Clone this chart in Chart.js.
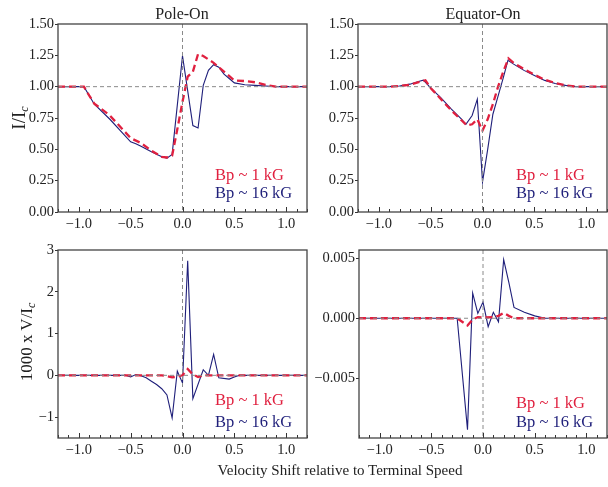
<!DOCTYPE html>
<html>
<head>
<meta charset="utf-8">
<script src="https://cdn.jsdelivr.net/npm/chart.js@4.4.1/dist/chart.umd.min.js"></script>
<style>
  body { margin: 0; background: #fff; }
  #wrap { position: relative; width: 608px; height: 487px; font-family: "Liberation Serif", "DejaVu Serif", serif; color: #222; }
  canvas { position: absolute; }
  .lbl { position: absolute; white-space: nowrap; line-height: 1; }
  .title { font-size: 16px; }
  .leg { font-size: 16.5px; }
  .red { color: #e0203f; }
  .blue { color: #1f1f7a; }
  .ylab { font-size: 17px; transform: translate(-50%, -50%) rotate(-90deg); }
  sub { font-size: 12px; vertical-align: -3px; }
</style>
</head>
<body>
<div id="wrap">
  <canvas id="poleI" width="310" height="240" style="left:0;top:0"></canvas>
  <canvas id="eqI" width="308" height="240" style="left:300px;top:0"></canvas>
  <canvas id="poleV" width="310" height="228" style="left:0;top:240px"></canvas>
  <canvas id="eqV" width="308" height="228" style="left:300px;top:240px"></canvas>

  <div class="lbl title" style="left:182px;top:6px;transform:translateX(-50%)">Pole-On</div>
  <div class="lbl title" style="left:483px;top:6px;transform:translateX(-50%)">Equator-On</div>

  <div class="lbl ylab" style="left:19px;top:118px;font-size:19px">I/I<sub><i>c</i></sub></div>
  <div class="lbl ylab" style="left:27px;top:342px">1000 x V/I<sub><i>c</i></sub></div>
  <div class="lbl" style="left:340px;top:463px;font-size:15px;transform:translateX(-50%)">Velocity Shift relative to Terminal Speed</div>

  <div class="lbl leg red"  style="left:215px;top:167px">Bp ~ 1 kG</div>
  <div class="lbl leg blue" style="left:215px;top:185px">Bp ~ 16 kG</div>
  <div class="lbl leg red"  style="left:516px;top:167px">Bp ~ 1 kG</div>
  <div class="lbl leg blue" style="left:516px;top:185px">Bp ~ 16 kG</div>
  <div class="lbl leg red"  style="left:215px;top:392px">Bp ~ 1 kG</div>
  <div class="lbl leg blue" style="left:215px;top:414px">Bp ~ 16 kG</div>
  <div class="lbl leg red"  style="left:516px;top:395px">Bp ~ 1 kG</div>
  <div class="lbl leg blue" style="left:516px;top:414px">Bp ~ 16 kG</div>
</div>

<script>
/* ==========================
   DATA
========================== */
const xTicks = [-1, -0.5, 0, 0.5, 1];
const intensityTicks = [0, 0.25, 0.5, 0.75, 1, 1.25, 1.5];
const poleVTicks = [-1, 0, 1, 2, 3];
const eqVTicks = [-0.005, 0, 0.005];

// Pole-On, Stokes I
const poleIx1 = [-1.2, -0.95, -0.9, -0.85, -0.7, -0.5, -0.4, -0.3, -0.2, -0.15, -0.1, -0.05, 0, 0.05, 0.1, 0.15, 0.2, 0.3, 0.4, 0.5, 0.6, 0.7, 0.8, 0.9, 1.2];
const poleIy1 = [1, 1, 0.93, 0.865, 0.77, 0.59, 0.55, 0.49, 0.44, 0.435, 0.45, 0.66, 0.88, 1.08, 1.12, 1.26, 1.245, 1.19, 1.12, 1.05, 1.045, 1.035, 1.015, 1.0, 1.0];
const poleIx16 = [-1.2, -0.95, -0.9, -0.85, -0.7, -0.5, -0.45, -0.4, -0.3, -0.2, -0.15, -0.1, 0, 0.1, 0.15, 0.2, 0.25, 0.3, 0.35, 0.4, 0.45, 0.5, 0.6, 0.7, 0.8, 0.9, 1.2];
const poleIy16 = [1, 1, 0.93, 0.86, 0.74, 0.56, 0.545, 0.525, 0.48, 0.44, 0.43, 0.46, 1.245, 0.69, 0.67, 1.01, 1.13, 1.175, 1.155, 1.1, 1.065, 1.03, 1.015, 1.01, 1.005, 1.0, 1.0];

// Equator-On, Stokes I
const eqIx1 = [-1.2, -0.9, -0.8, -0.7, -0.6, -0.55, -0.5, -0.4, -0.3, -0.2, -0.15, -0.1, -0.05, 0, 0.05, 0.1, 0.15, 0.2, 0.25, 0.3, 0.4, 0.5, 0.6, 0.7, 0.8, 0.9, 1.2];
const eqIy1 = [1, 1.0, 1.005, 1.015, 1.04, 1.05, 0.99, 0.9, 0.81, 0.73, 0.69, 0.7, 0.74, 0.65, 0.74, 0.86, 1.0, 1.12, 1.225, 1.19, 1.14, 1.095, 1.055, 1.03, 1.01, 1.0, 1.0];
const eqIx16 = [-1.2, -0.9, -0.8, -0.7, -0.6, -0.57, -0.5, -0.4, -0.3, -0.2, -0.16, -0.1, -0.05, 0, 0.05, 0.1, 0.15, 0.2, 0.245, 0.3, 0.4, 0.5, 0.6, 0.7, 0.8, 0.9, 1.2];
const eqIy16 = [1, 1.0, 1.005, 1.02, 1.045, 1.052, 0.99, 0.91, 0.82, 0.74, 0.7, 0.77, 0.9, 0.24, 0.5, 0.78, 0.925, 1.07, 1.21, 1.18, 1.13, 1.09, 1.05, 1.025, 1.01, 1.0, 1.0];

// Pole-On, 1000 x Stokes V
const poleVx1 = [-1.2, -0.2, -0.15, -0.1, -0.05, 0, 0.05, 0.1, 0.15, 0.2, 1.2];
const poleVy1 = [0, 0, -0.02, -0.05, -0.03, 0, 0.15, 0.02, -0.04, 0, 0];
const poleVx16 = [-1.2, -0.55, -0.5, -0.45, -0.4, -0.35, -0.3, -0.25, -0.2, -0.15, -0.1, -0.05, 0, 0.05, 0.1, 0.2, 0.25, 0.3, 0.35, 0.45, 0.5, 0.55, 1.2];
const poleVy16 = [0, 0, -0.04, 0.02, -0.01, -0.06, -0.14, -0.22, -0.32, -0.47, -1.02, 0.1, -0.18, 2.74, -0.56, 0.135, 0, 0.5, -0.06, -0.09, -0.04, 0, 0];

// Equator-On, Stokes V
const eqVx1 = [-1.2, -0.25, -0.15, -0.1, -0.05, 0, 0.1, 0.15, 0.2, 0.25, 0.3, 1.2];
const eqVy1 = [0, 0, -0.0006, -0.0001, 0.0001, 0.00005, 0.0001, 0.0002, 0.00045, 0.0002, 0, 0];
const eqVx16 = [-1.2, -0.25, -0.15, -0.1, -0.05, 0, 0.05, 0.1, 0.15, 0.2, 0.25, 0.3, 0.4, 0.5, 0.6, 1.2];
const eqVy16 = [0, 0, -0.0093, 0.0021, 0.0004, 0.00135, -0.0007, 0.0005, -0.0003, 0.0049, 0.003, 0.0009, 0.0005, 0.0002, 0, 0];

const RED = "#e0203f";
const BLUE = "#1f1f7a";
const FONT = "'Liberation Serif', 'DejaVu Serif', serif";

function pts(xs, ys) {
  return xs.map((x, i) => ({ x: x, y: ys[i] }));
}

function fmt(v, dec) {
  return v.toFixed(dec).replace("-", "\u2212");
}

/* ===== reference lines, frame and inward x ticks ===== */
const framePlugin = {
  id: "frame",
  afterDatasetsDraw(chart, args, opts) {
    const ctx = chart.ctx;
    const a = chart.chartArea;
    const xs = chart.scales.x;
    const ys = chart.scales.y;
    ctx.save();
    ctx.strokeStyle = "#8a8a8a";
    ctx.lineWidth = 1;
    ctx.setLineDash([4, 3]);
    const yp = ys.getPixelForValue(opts.refY);
    ctx.beginPath();
    ctx.moveTo(a.left, yp);
    ctx.lineTo(a.right, yp);
    const xp = xs.getPixelForValue(0);
    ctx.moveTo(xp, a.top);
    ctx.lineTo(xp, a.bottom);
    ctx.stroke();
    ctx.restore();
  },
  afterDraw(chart) {
    const ctx = chart.ctx;
    const a = chart.chartArea;
    const xs = chart.scales.x;
    ctx.save();
    ctx.strokeStyle = "#333";
    ctx.lineWidth = 1;
    ctx.beginPath();
    for (let k = -12; k <= 12; k++) {
      const px = Math.round(xs.getPixelForValue(k / 10)) + 0.5;
      const len = (k % 5 === 0) ? 5 : 3;
      ctx.moveTo(px, a.bottom);
      ctx.lineTo(px, a.bottom - len);
    }
    ctx.stroke();
    ctx.strokeStyle = "#444";
    ctx.lineWidth = 1.3;
    ctx.strokeRect(a.left, a.top, a.right - a.left, a.bottom - a.top);
    ctx.restore();
  }
};

function makePanel(id, data1, data16, yMin, yMax, yTicks, yDec, refY, pad, yWidth, xHeight) {
  return new Chart(document.getElementById(id), {
    type: "line",
    data: {
      datasets: [{
        label: "Bp ~ 1 kG",
        data: data1,
        borderColor: RED,
        borderWidth: 2.3,
        borderDash: [7, 4],
        pointRadius: 0,
        tension: 0
      }, {
        label: "Bp ~ 16 kG",
        data: data16,
        borderColor: BLUE,
        borderWidth: 1.1,
        pointRadius: 0,
        tension: 0
      }]
    },
    options: {
      responsive: false,
      animation: false,
      layout: { padding: pad },
      plugins: {
        legend: { display: false },
        tooltip: { enabled: false },
        frame: { refY: refY }
      },
      scales: {
        x: {
          type: "linear",
          min: -1.2,
          max: 1.2,
          afterBuildTicks: s => { s.ticks = xTicks.map(v => ({ value: v })); },
          afterFit: s => { s.height = xHeight; },
          grid: { display: false, drawTicks: false, tickLength: 0 },
          border: { display: false },
          ticks: {
            padding: 3,
            maxRotation: 0,
            color: "#222",
            font: { family: FONT, size: 14.5 },
            callback: v => fmt(v, 1)
          }
        },
        y: {
          min: yMin,
          max: yMax,
          afterBuildTicks: s => { s.ticks = yTicks.map(v => ({ value: v })); },
          afterFit: s => { s.width = yWidth; },
          grid: { drawOnChartArea: false, tickLength: 3, color: "#333" },
          border: { display: false },
          ticks: {
            padding: 1,
            color: "#222",
            font: { family: FONT, size: 14.5 },
            callback: v => fmt(v, yDec)
          }
        }
      }
    },
    plugins: [framePlugin]
  });
}

document.addEventListener("DOMContentLoaded", () => {
  makePanel("poleI", pts(poleIx1, poleIy1), pts(poleIx16, poleIy16),
    0, 1.5, intensityTicks, 2, 1, { top: 24, right: 3, left: 0, bottom: 0 }, 58, 28);
  makePanel("eqI", pts(eqIx1, eqIy1), pts(eqIx16, eqIy16),
    0, 1.5, intensityTicks, 2, 1, { top: 24, right: 1, left: 0, bottom: 0 }, 58, 28);
  makePanel("poleV", pts(poleVx1, poleVy1), pts(poleVx16, poleVy16),
    -1.5, 3, poleVTicks, 0, 0, { top: 10, right: 3, left: 0, bottom: 0 }, 58, 30);
  makePanel("eqV", pts(eqVx1, eqVy1), pts(eqVx16, eqVy16),
    -0.01, 0.0057, eqVTicks, 3, 0, { top: 10, right: 1, left: 0, bottom: 0 }, 59, 30);
});
</script>
</body>
</html>
